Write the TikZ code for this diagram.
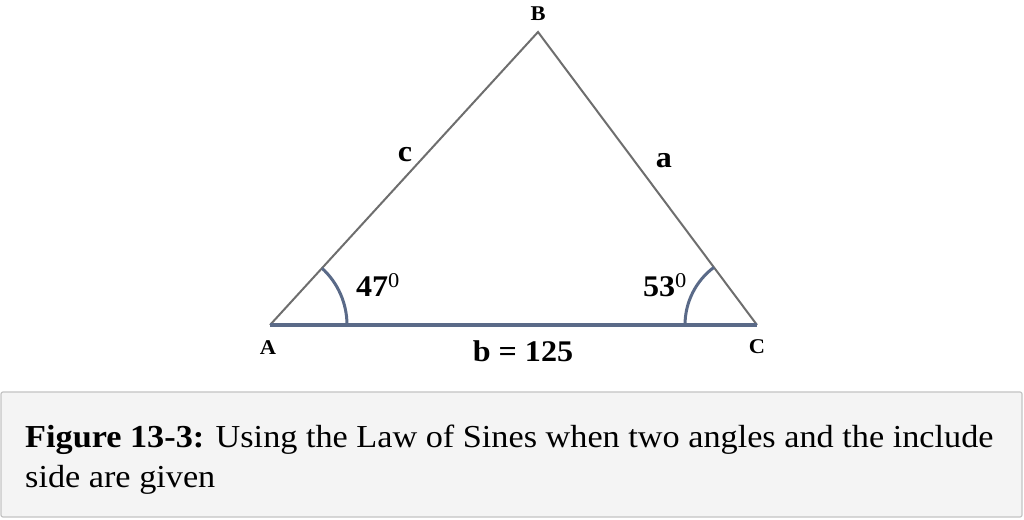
\documentclass[tikz,border=0pt]{standalone}
\usepackage{fontspec}
\setmainfont{Liberation Serif}[FakeStretch=1.07]
\usetikzlibrary{calc}

\definecolor{sidegray}{HTML}{6E6E6E}
\definecolor{baseblue}{HTML}{5A6A88}
\definecolor{boxfill}{HTML}{F4F4F4}
\definecolor{boxline}{HTML}{C4C4C4}

\tikzset{
	vlabel/.style={font=\bfseries\fontsize{21}{24}\selectfont, inner sep=0pt},
	slabel/.style={font=\bfseries\fontsize{30}{32}\selectfont, inner sep=0pt},
	alabel/.style={font=\bfseries\fontsize{30}{34}\selectfont, inner sep=0pt},
	captext/.style={font=\fontsize{32}{38}\selectfont, inner sep=0pt, anchor=base west}
}

\begin{document}
\begin{tikzpicture}[x=1pt, y=1pt]
			\useasboundingbox (0, 0) rectangle (1024, 519);
			\coordinate (A) at (270, 194);
			\coordinate (B) at (538, 487);
			\coordinate (C) at (757, 194);
			\draw[sidegray, line width=2pt] (A) -- (B) -- (C);
			% angle marks
			\draw[baseblue, line width=3pt] ($(A)+(77, 0)$) arc[start angle=0, end angle=47.5, radius=77];
			\draw[baseblue, line width=3pt] ($(C)+(-72, 0)$) arc[start angle=180, end angle=126.8, radius=72];
			\draw[baseblue, line width=4.5pt] (A) -- (C);
			\node[vlabel] (nA) at (268, 171) {A};
			\node[vlabel] (nB) at (538, 505) {B};
			\node[vlabel] (nC) at (757, 172) {C};
			\node[slabel] (nc) at (405, 364) {c};
			\node[slabel] (na) at (664, 358) {a};
			\node[alabel] (ang1) at (378, 234) {47\textsuperscript{\mdseries 0}};
			\node[alabel] (ang2) at (665, 234) {53\textsuperscript{\mdseries 0}};
			\node[alabel] (nb) at (523, 168) {b = 125};
			% caption
			\draw[boxline, fill=boxfill, line width=1.2pt, rounded corners=2pt] (1, 2) rectangle (1022, 127);
			\node[captext] (cap1) at (25, 71) {\textbf{Figure 13-3:} Using the Law of Sines when two angles and the include};
			\node[captext] (cap2) at (25, 32) {side are given};
		\end{tikzpicture}
\end{document}
